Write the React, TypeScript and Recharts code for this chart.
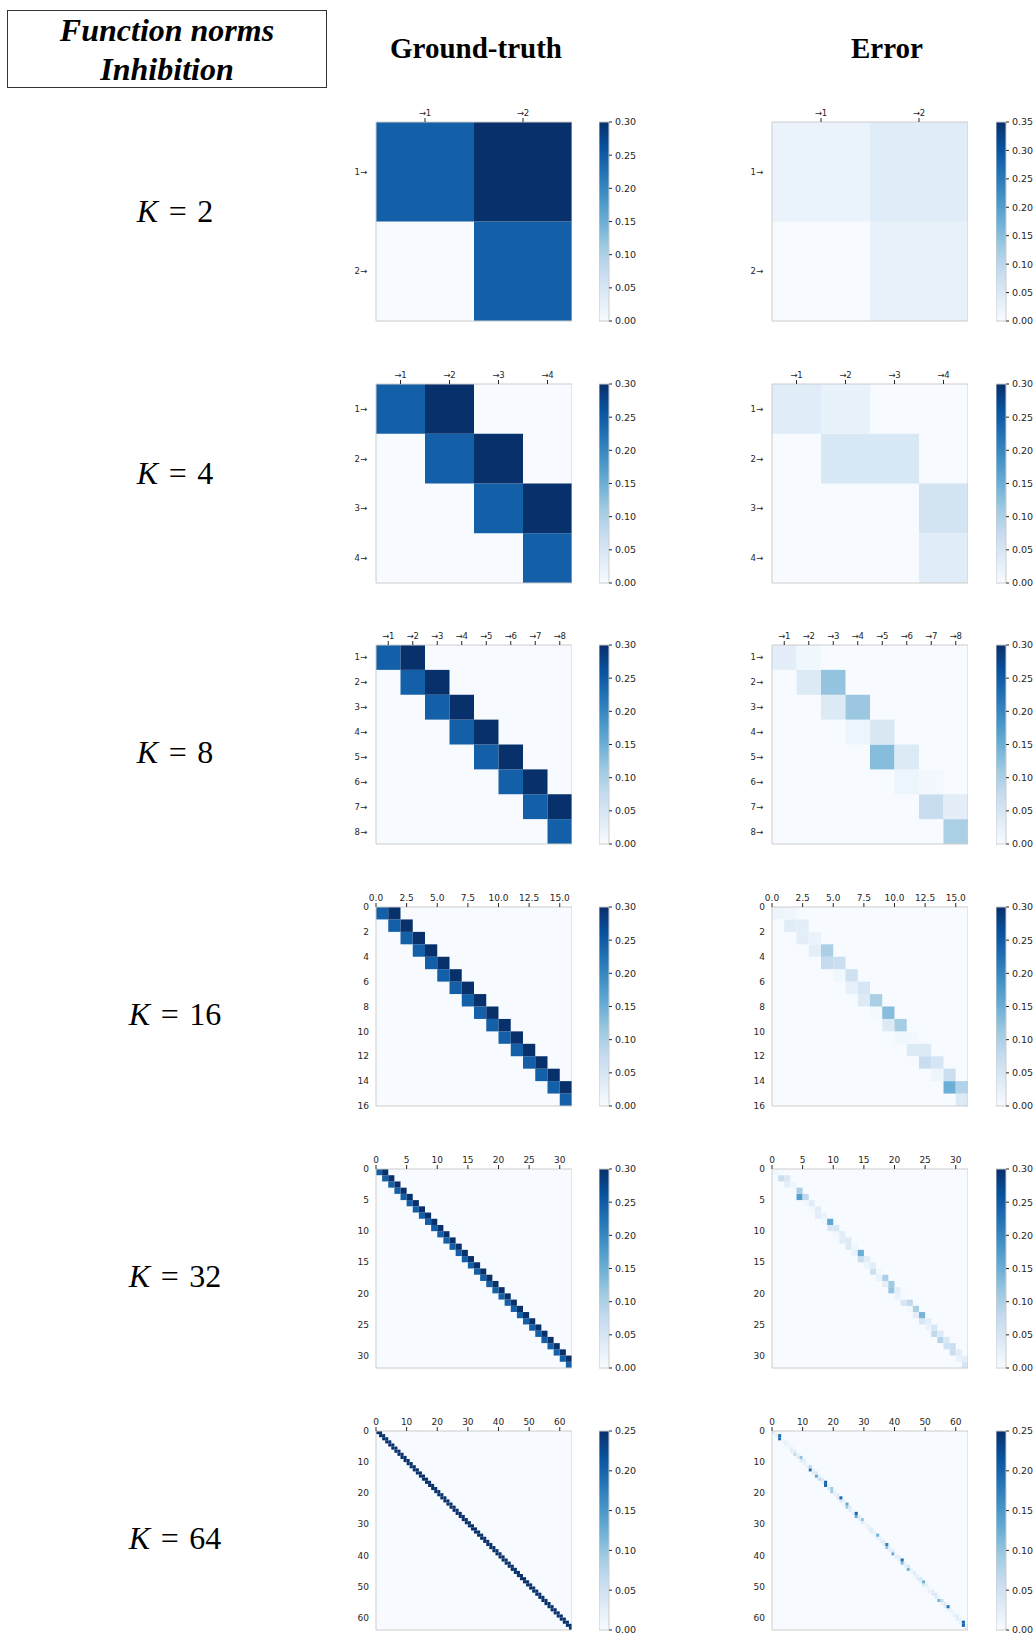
import React from "react";
import {
  ScatterChart,
  Scatter,
  XAxis,
  YAxis,
  ReferenceArea,
  BarChart,
  Bar,
} from "recharts";

// matrix sizes, one row of panels each
const kValues = [2, 4, 8, 16, 32, 64];

// ground-truth: diagonal and super-diagonal entries (everything else is 0)
const gtDiag2 = [0.245, 0.245];
const gtSup2 = [0.3];
const gtDiag4 = [0.245, 0.245, 0.245, 0.245];
const gtSup4 = [0.3, 0.3, 0.3];
const gtDiag8 = [0.245, 0.245, 0.245, 0.245, 0.245, 0.245, 0.245, 0.245];
const gtSup8 = [0.3, 0.3, 0.3, 0.3, 0.3, 0.3, 0.3];
const gtDiag16 = [
  0.245, 0.245, 0.245, 0.245, 0.245, 0.245, 0.245, 0.245,
  0.245, 0.245, 0.245, 0.245, 0.245, 0.245, 0.245, 0.245,
];
const gtSup16 = [
  0.3, 0.3, 0.3, 0.3, 0.3, 0.3, 0.3, 0.3, 0.3, 0.3, 0.3, 0.3, 0.3, 0.3, 0.3,
];
const gtDiag32 = [
  0.245, 0.245, 0.245, 0.245, 0.245, 0.245, 0.245, 0.245,
  0.245, 0.245, 0.245, 0.245, 0.245, 0.245, 0.245, 0.245,
  0.245, 0.245, 0.245, 0.245, 0.245, 0.245, 0.245, 0.245,
  0.245, 0.245, 0.245, 0.245, 0.245, 0.245, 0.245, 0.245,
];
const gtSup32 = [
  0.3, 0.3, 0.3, 0.3, 0.3, 0.3, 0.3, 0.3, 0.3, 0.3, 0.3, 0.3, 0.3, 0.3, 0.3, 0.3,
  0.3, 0.3, 0.3, 0.3, 0.3, 0.3, 0.3, 0.3, 0.3, 0.3, 0.3, 0.3, 0.3, 0.3, 0.3,
];
const gtDiag64 = [
  0.25, 0.25, 0.25, 0.25, 0.25, 0.25, 0.25, 0.25, 0.25, 0.25, 0.25, 0.25, 0.25, 0.25, 0.25, 0.25,
  0.25, 0.25, 0.25, 0.25, 0.25, 0.25, 0.25, 0.25, 0.25, 0.25, 0.25, 0.25, 0.25, 0.25, 0.25, 0.25,
  0.25, 0.25, 0.25, 0.25, 0.25, 0.25, 0.25, 0.25, 0.25, 0.25, 0.25, 0.25, 0.25, 0.25, 0.25, 0.25,
  0.25, 0.25, 0.25, 0.25, 0.25, 0.25, 0.25, 0.25, 0.25, 0.25, 0.25, 0.25, 0.25, 0.25, 0.25, 0.25,
];
const gtSup64 = [
  0.3, 0.3, 0.3, 0.3, 0.3, 0.3, 0.3, 0.3, 0.3, 0.3, 0.3, 0.3, 0.3, 0.3, 0.3, 0.3,
  0.3, 0.3, 0.3, 0.3, 0.3, 0.3, 0.3, 0.3, 0.3, 0.3, 0.3, 0.3, 0.3, 0.3, 0.3, 0.3,
  0.3, 0.3, 0.3, 0.3, 0.3, 0.3, 0.3, 0.3, 0.3, 0.3, 0.3, 0.3, 0.3, 0.3, 0.3, 0.3,
  0.3, 0.3, 0.3, 0.3, 0.3, 0.3, 0.3, 0.3, 0.3, 0.3, 0.3, 0.3, 0.3, 0.3, 0.3,
];

// error: diagonal and super-diagonal entries
const errDiag2 = [0.022, 0.027];
const errSup2 = [0.04];
const errDiag4 = [0.035, 0.045, 0.0, 0.035];
const errSup4 = [0.022, 0.045, 0.055];
const errDiag8 = [0.03, 0.04, 0.04, 0.015, 0.13, 0.015, 0.07, 0.1];
const errSup8 = [0.01, 0.12, 0.115, 0.045, 0.04, 0.008, 0.03];
const errDiag16 = [
  0.015, 0.035, 0.03, 0.03, 0.075, 0.01, 0.025, 0.04,
  0.005, 0.04, 0.01, 0.04, 0.07, 0.015, 0.15, 0.04,
];
const errSup16 = [
  0.012, 0.03, 0.02, 0.1, 0.065, 0.06, 0.05, 0.1, 0.13, 0.105, 0.008, 0.04, 0.05, 0.065, 0.095,
];
const errDiag32 = [
  0.01, 0.065, 0.03, 0.005, 0.17, 0.01, 0.01, 0.03, 0.01, 0.045, 0.01, 0.035, 0.04, 0.02, 0.07, 0.015,
  0.065, 0.02, 0.03, 0.12, 0.02, 0.05, 0.01, 0.03, 0.05, 0.02, 0.08, 0.09, 0.06, 0.07, 0.02, 0.05,
];
const errSup32 = [
  0.005, 0.045, 0.015, 0.1, 0.08, 0.035, 0.03, 0.02, 0.16, 0.045, 0.035, 0.04, 0.01, 0.15, 0.03, 0.03,
  0.01, 0.1, 0.11, 0.03, 0.005, 0.08, 0.1, 0.14, 0.03, 0.05, 0.04, 0.045, 0.07, 0.035, 0.03,
];
const errDiag64 = [
  0.03, 0.02, 0.19, 0.01, 0.02, 0.01, 0.03, 0.07, 0.03, 0.04, 0.02, 0.02, 0.19, 0.03, 0.13, 0.06,
  0.02, 0.2, 0.03, 0.09, 0.02, 0.03, 0.04, 0.01, 0.09, 0.03, 0.02, 0.13, 0.02, 0.03, 0.01, 0.02,
  0.03, 0.01, 0.02, 0.02, 0.03, 0.1, 0.02, 0.13, 0.03, 0.02, 0.11, 0.02, 0.12, 0.01, 0.02, 0.03,
  0.02, 0.04, 0.01, 0.02, 0.03, 0.03, 0.12, 0.02, 0.03, 0.02, 0.01, 0.02, 0.03, 0.02, 0.2, 0.03,
];
const errSup64 = [
  0.01, 0.19, 0.01, 0.02, 0.01, 0.02, 0.03, 0.02, 0.1, 0.03, 0.01, 0.07, 0.02, 0.04, 0.02, 0.03,
  0.2, 0.02, 0.09, 0.02, 0.03, 0.19, 0.02, 0.13, 0.03, 0.01, 0.2, 0.03, 0.1, 0.01, 0.02, 0.03,
  0.02, 0.12, 0.02, 0.03, 0.17, 0.02, 0.03, 0.01, 0.03, 0.19, 0.02, 0.04, 0.02, 0.03, 0.02, 0.04,
  0.12, 0.02, 0.01, 0.03, 0.04, 0.02, 0.06, 0.03, 0.18, 0.02, 0.01, 0.03, 0.02, 0.2, 0.03,
];

const gtDiags = [gtDiag2, gtDiag4, gtDiag8, gtDiag16, gtDiag32, gtDiag64];
const gtSups = [gtSup2, gtSup4, gtSup8, gtSup16, gtSup32, gtSup64];
const errDiags = [errDiag2, errDiag4, errDiag8, errDiag16, errDiag32, errDiag64];
const errSups = [errSup2, errSup4, errSup8, errSup16, errSup32, errSup64];

// colour scale limits
const gtMax = [0.3, 0.3, 0.3, 0.3, 0.3, 0.25];
const errMax = [0.35, 0.3, 0.3, 0.3, 0.3, 0.25];

// axis ticks and labels
const centerTicks2 = [0.5, 1.5];
const centerTicks4 = [0.5, 1.5, 2.5, 3.5];
const centerTicks8 = [0.5, 1.5, 2.5, 3.5, 4.5, 5.5, 6.5, 7.5];
const colLabels2 = ["→1", "→2"];
const colLabels4 = ["→1", "→2", "→3", "→4"];
const colLabels8 = ["→1", "→2", "→3", "→4", "→5", "→6", "→7", "→8"];
const rowLabels2 = ["1→", "2→"];
const rowLabels4 = ["1→", "2→", "3→", "4→"];
const rowLabels8 = ["1→", "2→", "3→", "4→", "5→", "6→", "7→", "8→"];
const xTicks16 = [0, 2.5, 5, 7.5, 10, 12.5, 15];
const xLabels16 = ["0.0", "2.5", "5.0", "7.5", "10.0", "12.5", "15.0"];
const yTicks16 = [0, 2, 4, 6, 8, 10, 12, 14, 16];
const yLabels16 = ["0", "2", "4", "6", "8", "10", "12", "14", "16"];
const ticks32 = [0, 5, 10, 15, 20, 25, 30];
const labels32 = ["0", "5", "10", "15", "20", "25", "30"];
const ticks64 = [0, 10, 20, 30, 40, 50, 60];
const labels64 = ["0", "10", "20", "30", "40", "50", "60"];

const xTicksByRow = [centerTicks2, centerTicks4, centerTicks8, xTicks16, ticks32, ticks64];
const xLabelsByRow = [colLabels2, colLabels4, colLabels8, xLabels16, labels32, labels64];
const yTicksByRow = [centerTicks2, centerTicks4, centerTicks8, yTicks16, ticks32, ticks64];
const yLabelsByRow = [rowLabels2, rowLabels4, rowLabels8, yLabels16, labels32, labels64];

const cbTicks25 = [0, 0.05, 0.1, 0.15, 0.2, 0.25];
const cbLabels25 = ["0.00", "0.05", "0.10", "0.15", "0.20", "0.25"];
const cbTicks30 = [0, 0.05, 0.1, 0.15, 0.2, 0.25, 0.3];
const cbLabels30 = ["0.00", "0.05", "0.10", "0.15", "0.20", "0.25", "0.30"];
const cbTicks35 = [0, 0.05, 0.1, 0.15, 0.2, 0.25, 0.3, 0.35];
const cbLabels35 = ["0.00", "0.05", "0.10", "0.15", "0.20", "0.25", "0.30", "0.35"];

// matplotlib "Blues"
const bluesStops = [
  "#f7fbff", "#deebf7", "#c6dbef", "#9ecae1", "#6baed6",
  "#4292c6", "#2171b5", "#08519c", "#08306b",
];

function blues(t: number) {
  const c = Math.max(0, Math.min(1, t)) * 8;
  const i = Math.min(7, Math.floor(c));
  const f = c - i;
  const a = bluesStops[i];
  const b = bluesStops[i + 1];
  const ch = (s: string, o: number) => parseInt(s.slice(o, o + 2), 16);
  const mix = (o: number) => Math.round(ch(a, o) + (ch(b, o) - ch(a, o)) * f);
  return `rgb(${mix(1)},${mix(3)},${mix(5)})`;
}

// layout
const W = 196;
const H = 199;
const AXW = 40;
const AXH = 22;
const BOT = 8;
const rowTops = [122, 384, 645, 907, 1169, 1431];
const labelOffsets = [89, 89, 107, 107, 107, 107];
const GT_LEFT = 376;
const ERR_LEFT = 772;
const GT_CB_LEFT = 599;
const ERR_CB_LEFT = 996;
const CBW = 10;

const tickColor = "#262626";
const sansFont = '"DejaVu Sans", sans-serif';
const serifFont = '"Liberation Serif", "Times New Roman", serif';

function Heatmap({ k, diag, sup, vmax, xTicks, xLabels, yTicks, yLabels, left, top }: any) {
  const cells: { x1: number; x2: number; y: number; v: number }[] = [];
  diag.forEach((v: number, i: number) => cells.push({ x1: i, x2: i + 1, y: i, v }));
  sup.forEach((v: number, i: number) => cells.push({ x1: i + 1, x2: i + 2, y: i, v }));
  const centers = cells.map((c) => ({ x: c.x1 + 0.5, y: c.y + 0.5 }));
  const arrows = k <= 8;
  const fs = arrows ? 8.5 : 9;

  return (
    <div style={{ position: "absolute", left: left - AXW, top: top - AXH }}>
      <ScatterChart
        width={AXW + W}
        height={AXH + H + BOT}
        margin={{ top: 0, right: 0, bottom: BOT, left: 0 }}
      >
        <XAxis
          type="number"
          dataKey="x"
          domain={[0, k]}
          orientation="top"
          height={AXH}
          ticks={xTicks}
          interval={0}
          allowDataOverflow
          tickFormatter={(v: number) => xLabels[xTicks.indexOf(v)]}
          axisLine={false}
          tickLine={{ stroke: tickColor }}
          tickSize={4}
          tickMargin={2}
          tick={{ fontSize: fs, fill: tickColor, fontFamily: sansFont }}
        />
        <YAxis
          type="number"
          dataKey="y"
          domain={[0, k]}
          reversed
          width={AXW}
          ticks={yTicks}
          interval={0}
          allowDataOverflow
          tickFormatter={(v: number) => yLabels[yTicks.indexOf(v)]}
          axisLine={false}
          tickLine={false}
          tickSize={0}
          tickMargin={arrows ? 9 : 7}
          tick={{ fontSize: fs, fill: tickColor, fontFamily: sansFont }}
        />
        <ReferenceArea
          x1={0}
          x2={k}
          y1={0}
          y2={k}
          fill={blues(0)}
          fillOpacity={1}
          ifOverflow="visible"
        />
        {cells.map((c, i) => (
          <ReferenceArea
            key={i}
            x1={c.x1}
            x2={c.x2}
            y1={c.y}
            y2={c.y + 1}
            fill={blues(c.v / vmax)}
            fillOpacity={1}
            ifOverflow="visible"
          />
        ))}
        <ReferenceArea
          x1={0}
          x2={k}
          y1={0}
          y2={k}
          fill="none"
          stroke="#cccccc"
          strokeWidth={1}
          ifOverflow="visible"
        />
        <Scatter data={centers} isAnimationActive={false} shape={() => <g />} />
      </ScatterChart>
    </div>
  );
}

function Colorbar({ id, vmax, ticks, labels, left, top }: any) {
  return (
    <div style={{ position: "absolute", left, top: top - 6 }}>
      <BarChart
        width={CBW + 40}
        height={H + 12}
        data={[{ name: "cb", v: vmax }]}
        margin={{ top: 6, right: 0, bottom: 6, left: 0 }}
        barCategoryGap={0}
      >
        <defs>
          <linearGradient id={id} x1="0" y1="1" x2="0" y2="0">
            {bluesStops.map((c, i) => (
              <stop key={i} offset={i / 8} stopColor={c} />
            ))}
          </linearGradient>
        </defs>
        <XAxis dataKey="name" hide />
        <YAxis
          orientation="right"
          type="number"
          domain={[0, vmax]}
          ticks={ticks}
          interval={0}
          width={40}
          tickFormatter={(v: number) => labels[ticks.indexOf(v)]}
          axisLine={false}
          tickLine={{ stroke: tickColor }}
          tickSize={3}
          tickMargin={3}
          tick={{ fontSize: 9.5, fill: tickColor, fontFamily: sansFont }}
        />
        <Bar dataKey="v" fill={`url(#${id})`} stroke="#cccccc" isAnimationActive={false} />
      </BarChart>
    </div>
  );
}

function cbFor(vmax: number) {
  if (vmax > 0.3) return [cbTicks35, cbLabels35];
  if (vmax < 0.3) return [cbTicks25, cbLabels25];
  return [cbTicks30, cbLabels30];
}

export default function App() {
  return (
    <div
      style={{
        position: "absolute",
        left: 0,
        top: 0,
        width: 1034,
        height: 1635,
        background: "#ffffff",
        overflow: "hidden",
      }}
    >
      {/* header box */}
      <div
        style={{
          position: "absolute",
          left: 7,
          top: 10,
          width: 318,
          height: 76,
          border: "1px solid #333",
          fontFamily: serifFont,
          fontWeight: "bold",
          fontStyle: "italic",
          fontSize: 32,
          lineHeight: "39px",
          textAlign: "center",
        }}
      >
        Function norms
        <br />
        Inhibition
      </div>
      <div
        style={{
          position: "absolute",
          left: 376,
          width: 200,
          top: 28,
          height: 40,
          lineHeight: "40px",
          textAlign: "center",
          fontFamily: serifFont,
          fontWeight: "bold",
          fontSize: 29,
        }}
      >
        Ground-truth
      </div>
      <div
        style={{
          position: "absolute",
          left: 787,
          width: 200,
          top: 28,
          height: 40,
          lineHeight: "40px",
          textAlign: "center",
          fontFamily: serifFont,
          fontWeight: "bold",
          fontSize: 29,
        }}
      >
        Error
      </div>

      {kValues.map((k, r) => {
        const top = rowTops[r];
        const [gtT, gtL] = cbFor(gtMax[r]);
        const [erT, erL] = cbFor(errMax[r]);
        return (
          <React.Fragment key={k}>
            <div
              style={{
                position: "absolute",
                left: 75,
                width: 200,
                top: top + labelOffsets[r] - 20,
                height: 40,
                lineHeight: "40px",
                textAlign: "center",
                fontFamily: serifFont,
                fontSize: 32,
                wordSpacing: 2.5,
                whiteSpace: "pre",
              }}
            >
              <i>K</i> = {k}
            </div>
            <Heatmap
              k={k}
              diag={gtDiags[r]}
              sup={gtSups[r]}
              vmax={gtMax[r]}
              xTicks={xTicksByRow[r]}
              xLabels={xLabelsByRow[r]}
              yTicks={yTicksByRow[r]}
              yLabels={yLabelsByRow[r]}
              left={GT_LEFT}
              top={top}
            />
            <Colorbar id={`cbgt${k}`} vmax={gtMax[r]} ticks={gtT} labels={gtL} left={GT_CB_LEFT} top={top} />
            <Heatmap
              k={k}
              diag={errDiags[r]}
              sup={errSups[r]}
              vmax={errMax[r]}
              xTicks={xTicksByRow[r]}
              xLabels={xLabelsByRow[r]}
              yTicks={yTicksByRow[r]}
              yLabels={yLabelsByRow[r]}
              left={ERR_LEFT}
              top={top}
            />
            <Colorbar id={`cber${k}`} vmax={errMax[r]} ticks={erT} labels={erL} left={ERR_CB_LEFT} top={top} />
          </React.Fragment>
        );
      })}
    </div>
  );
}
